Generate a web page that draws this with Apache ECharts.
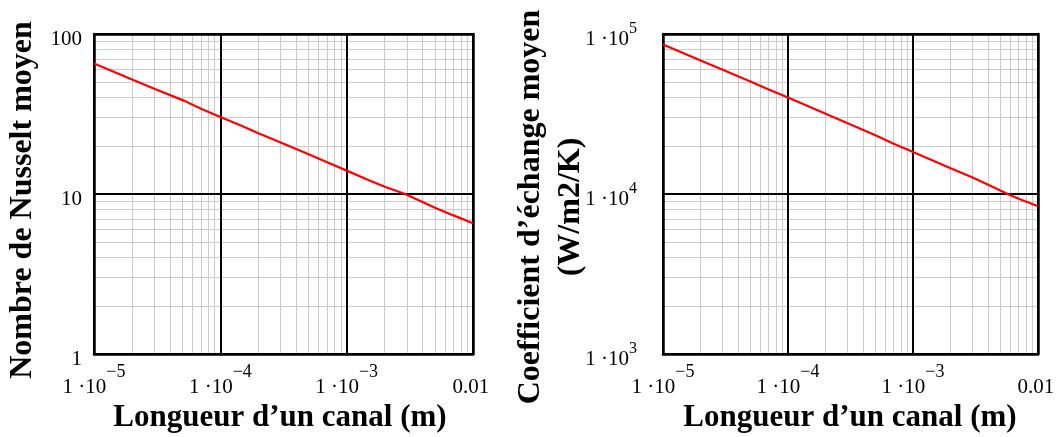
<!DOCTYPE html>
<html>
<head>
<meta charset="utf-8">
<script src="https://cdn.jsdelivr.net/npm/echarts@6/dist/echarts.min.js"></script>
<style>
html,body{margin:0;padding:0;background:#fff;}
#c{width:1063px;height:437px;}
</style>
</head>
<body>
<div id="c"></div>
<script>
// ---- data ----
const lengthsNu = [1e-5, 2e-5, 3e-5, 5.2e-5, 7.1e-5, 1e-4, 1.5e-4, 2e-4, 3e-4, 5e-4, 7e-4, 1e-3, 1.5e-3, 2e-3, 2.9e-3, 5e-3, 7e-3, 1e-2];
const nusselt   = [65.5, 52.0, 45.5, 38.2, 34.0, 30.3, 26.5, 24.0, 21.0, 17.7, 15.8, 14.0, 12.2, 11.1, 10.0, 8.2, 7.35, 6.56];

const lengthsH = [1e-5, 2e-5, 3e-5, 5e-5, 7e-5, 1e-4, 2e-4, 3e-4, 5e-4, 7e-4, 1e-3, 2e-3, 3e-3, 5e-3, 5.7e-3, 7e-3, 1e-2];
const hCoef    = [86000, 68200, 59700, 50400, 45000, 40100, 31700, 27700, 23300, 20600, 18300, 14500, 12700, 10500, 10000, 9350, 8390];

const xTickValues = [1e-5, 1e-4, 1e-3, 1e-2];
const xTickLabels = ['1 ·10{s|−5}', '1 ·10{s|−4}', '1 ·10{s|−3}', '0.01{s| }'];
const nuTickValues = [1, 10, 100];
const nuTickLabels = ['1', '10', '100'];
const hTickValues = [1e3, 1e4, 1e5];
const hTickLabels = ['1 ·10{s|3}', '1 ·10{s|4}', '1 ·10{s|5}'];

const xTitle = 'Longueur d’un canal (m)';
const nuTitle = 'Nombre de Nusselt moyen';
const hTitle1 = 'Coefficient d’échange moyen';
const hTitle2 = '(W/m2/K)';

// ---- helpers ----
const SERIF = '"Liberation Serif", "DejaVu Serif", serif';
function lookup(values, labels) {
  return function (v) {
    for (let i = 0; i < values.length; i++) {
      if (Math.abs(Math.log10(v) - Math.log10(values[i])) < 0.01) return labels[i];
    }
    return '';
  };
}
function minorLines(lo, hi) {
  const out = [];
  for (let d = lo; d < hi * 0.999; d *= 10) {
    for (let k = 2; k <= 9; k++) out.push(k * d);
  }
  return out;
}
const richX = {
  m: { fontSize: 21, fontFamily: SERIF, color: '#000' },
  s: { fontSize: 18, fontFamily: SERIF, color: '#000', padding: [0, 0, 30, 0] }
};
const richYm = {
  m: { fontSize: 21, fontFamily: SERIF, color: '#000' },
  s: { fontSize: 16, fontFamily: SERIF, color: '#000', padding: [0, 0, 20, 0] }
};
function wrapMain(f) { return v => { const t = f(v); return t.indexOf('{s|') >= 0 ? '{m|' + t.replace(/\{s\|/, '}{s|') : t; }; }

const grids = [
  { left: 94, top: 34, width: 379, height: 320 },
  { left: 663, top: 34, width: 375, height: 320 }
];

function xAxes(gi) {
  return [
    {
      type: 'log', logBase: 10, gridIndex: gi, min: 1e-5, max: 1e-2, z: 10,
      axisLine: { show: true, lineStyle: { color: '#000', width: 2.5 } },
      axisTick: { show: false },
      splitLine: { show: true, lineStyle: { color: '#000', width: 2 } },
      axisLabel: {
        margin: 9, color: '#000', fontSize: 21, fontFamily: SERIF,
        formatter: wrapMain(lookup(xTickValues, xTickLabels)), rich: richX,
        showMinLabel: true, showMaxLabel: true
      }
    },
    {
      type: 'log', logBase: 10, gridIndex: gi, min: 1e-5, max: 1e-2, z: 10, position: 'top',
      axisLine: { show: true, lineStyle: { color: '#000', width: 2.5 } },
      axisTick: { show: false }, splitLine: { show: false }, axisLabel: { show: false }
    }
  ];
}
function yAxes(gi, min, max, values, labels, margin, rich) {
  return [
    {
      type: 'log', logBase: 10, gridIndex: gi, min: min, max: max, z: 10,
      axisLine: { show: true, lineStyle: { color: '#000', width: 2.5 } },
      axisTick: { show: false },
      splitLine: { show: true, lineStyle: { color: '#000', width: 2 } },
      axisLabel: {
        margin: margin, color: '#000', fontSize: 21, fontFamily: SERIF,
        formatter: wrapMain(lookup(values, labels)), rich: rich,
        padding: [10, 0, 0, 0],
        showMinLabel: true, showMaxLabel: true
      }
    },
    {
      type: 'log', logBase: 10, gridIndex: gi, min: min, max: max, z: 10, position: 'right',
      axisLine: { show: true, lineStyle: { color: '#000', width: 2.5 } },
      axisTick: { show: false }, splitLine: { show: false }, axisLabel: { show: false }
    }
  ];
}
function minorSeries(xi, yi, xs, ys, xr, yr) {
  const v = xs.map(x => [{ coord: [x, yr[0]] }, { coord: [x, yr[1]] }]);
  const h = ys.map(y => [{ coord: [xr[0], y] }, { coord: [xr[1], y] }]);
  return {
    type: 'line', data: [], xAxisIndex: xi, yAxisIndex: yi, z: 1, silent: true,
    markLine: {
      silent: true, symbol: ['none', 'none'], animation: false,
      label: { show: false },
      lineStyle: { color: '#cccccc', width: 1, type: 'solid' },
      emphasis: { disabled: true },
      data: v.concat(h)
    }
  };
}

const option = {
  animation: false,
  backgroundColor: '#fff',
  grid: grids,
  xAxis: xAxes(0).concat(xAxes(1)),
  yAxis: yAxes(0, 1, 100, nuTickValues, nuTickLabels, 12, {}).concat(
         yAxes(1, 1e3, 1e5, hTickValues, hTickLabels, 26, richYm)),
  series: [
    minorSeries(0, 0, minorLines(1e-5, 1e-2), minorLines(1, 100), [1e-5, 1e-2], [1, 100]),
    minorSeries(2, 2, minorLines(1e-5, 1e-2), minorLines(1e3, 1e5), [1e-5, 1e-2], [1e3, 1e5]),
    {
      type: 'line', xAxisIndex: 0, yAxisIndex: 0, z: 20, showSymbol: false,
      lineStyle: { color: '#ff0000', width: 2.2 },
      data: lengthsNu.map((x, i) => [x, nusselt[i]])
    },
    {
      type: 'line', xAxisIndex: 2, yAxisIndex: 2, z: 20, showSymbol: false,
      lineStyle: { color: '#ff0000', width: 2.2 },
      data: lengthsH.map((x, i) => [x, hCoef[i]])
    }
  ],
  graphic: [
    { type: 'text', x: 280, y: 418, style: { text: xTitle, font: 'bold 31px ' + SERIF, fill: '#000', textAlign: 'center', textVerticalAlign: 'middle' } },
    { type: 'text', x: 850, y: 418, style: { text: xTitle, font: 'bold 31px ' + SERIF, fill: '#000', textAlign: 'center', textVerticalAlign: 'middle' } },
    { type: 'text', x: 23, y: 200, rotation: Math.PI / 2, style: { text: nuTitle, font: 'bold 32px ' + SERIF, fill: '#000', textAlign: 'center', textVerticalAlign: 'middle' } },
    { type: 'text', x: 531, y: 207, rotation: Math.PI / 2, style: { text: hTitle1, font: 'bold 32px ' + SERIF, fill: '#000', textAlign: 'center', textVerticalAlign: 'middle' } },
    { type: 'text', x: 571, y: 207, rotation: Math.PI / 2, style: { text: hTitle2, font: 'bold 32px ' + SERIF, fill: '#000', textAlign: 'center', textVerticalAlign: 'middle' } }
  ]
};
const chart = echarts.init(document.getElementById('c'), null, { renderer: 'canvas' });
chart.setOption(option);
</script>
</body>
</html>
